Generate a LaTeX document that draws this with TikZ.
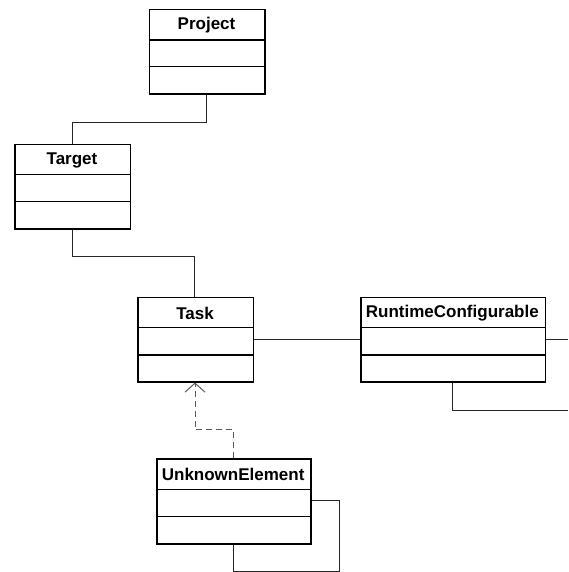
\documentclass[tikz,border=0pt]{standalone}
\usepackage{fontspec}
\setmainfont{Liberation Sans}
\usetikzlibrary{arrows.meta}
\tikzset{
  clsbox/.style={draw=black, line width=1.5pt, fill=white, inner sep=0pt},
  clsline/.style={draw=black, line width=1.5pt},
  clstitle/.style={font=\fontsize{17}{19}\selectfont\bfseries, inner sep=0pt, anchor=center},
  assoc/.style={draw=black!85, line width=1pt},
  depend/.style={draw=black!65, line width=1pt, dash pattern=on 6pt off 4pt},
}
% #1 name, #2 x1, #3 y1, #4 x2, #5 y2, #6 div1, #7 div2, #8 text
\newcommand{\umlclass}[8]{%
  \node[clsbox, minimum width=#4-#2, minimum height=#5-#3, anchor=north west] (#1) at (#2,#3) {};
  \draw[clsline] (#2,#6) -- (#4,#6);
  \draw[clsline] (#2,#7) -- (#4,#7);
  \node[clstitle] (#1-t) at ({(#2+#4)/2},{(#3+#6)/2+1}) {#8};
}
\begin{document}
\begin{tikzpicture}[x=1pt,y=-1pt]
\useasboundingbox (0,0) rectangle (568,572);
\coordinate (pt1) at (206.7,122.3);
\coordinate (pt2) at (72,122.3);
\coordinate (tt1) at (72,256.7);
\coordinate (tt2) at (194.7,256.7);
\coordinate (rcR) at (568,339.3);
\coordinate (rcB1) at (452.3,410);
\coordinate (rcB2) at (568,410);
\coordinate (dp1) at (195,429.3);
\coordinate (dp2) at (233.3,429.3);
\coordinate (ue1) at (339,500.3);
\coordinate (ue2) at (339,571);
\coordinate (ue3) at (233.7,571);

\umlclass{project}{148.7}{9}{264.3}{93.3}{40}{66.7}{Project}
\umlclass{target}{14.3}{143.7}{129.7}{228.3}{174.3}{201.3}{Target}
\umlclass{task}{137.3}{296.7}{252.7}{381}{327.7}{355}{Task}
\umlclass{rc}{360}{296.7}{544.7}{381}{327.7}{355}{RuntimeConfigurable}
\umlclass{ue}{156}{458.3}{310.3}{543}{489.3}{516.3}{UnknownElement}

\draw[assoc] (project.south -| pt1) -- (pt1) -- (pt2) -- (target.north -| pt2);
\draw[assoc] (target.south -| tt1) -- (tt1) -- (tt2) -- (task.north -| tt2);
\draw[assoc] (task.east |- rcR) -- (rc.west |- rcR);
\draw[assoc] (rc.east |- rcR) -- (rcR);
\draw[assoc] (rc.south -| rcB1) -- (rcB1) -- (rcB2);
\draw[depend, -{Straight Barb[length=9pt,width=20pt,line width=1pt]}] (ue.north -| dp2) -- (dp2) -- (dp1) -- (task.south -| dp1);
\draw[assoc] (ue.east |- ue1) -- (ue1) -- (ue2) -- (ue3) -- (ue.south -| ue3);
\end{tikzpicture}
\end{document}
